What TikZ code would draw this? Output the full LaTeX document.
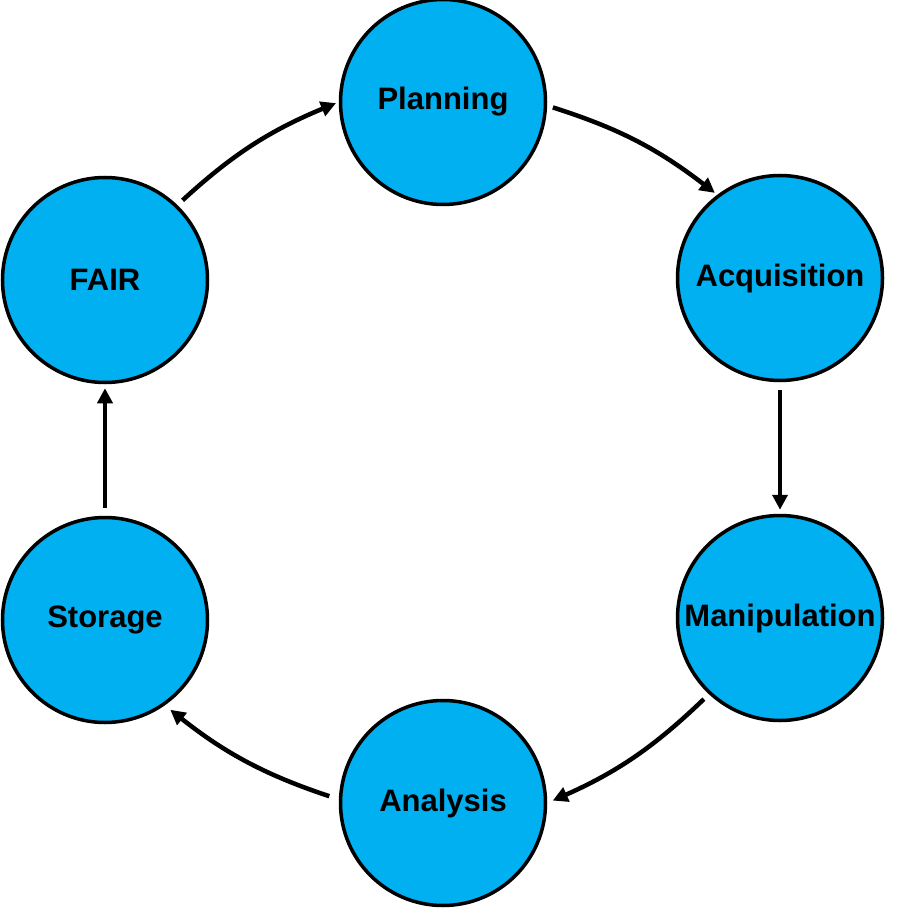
\documentclass[tikz,border=0pt]{standalone}
\usepackage{fontspec}
\setmainfont{Liberation Sans}
\usetikzlibrary{arrows.meta}
\definecolor{cyanfill}{HTML}{00B0F0}
\begin{document}
\begin{tikzpicture}[x=1pt,y=-1pt,
  stage/.style={circle,draw=black,line width=3.5pt,fill=cyanfill,minimum size=205pt,inner sep=0pt,
    font=\fontsize{31}{36}\selectfont\bfseries},
  flow/.style={line width=4.5pt,-{Triangle[length=15pt,width=15pt]}}]
\useasboundingbox (0,0) rectangle (896,909);
\node[stage] (planning) at (443,102) {Planning};
\node[stage] (acq) at (780,278) {Acquisition};
\node[stage] (manip) at (780,618) {Manipulation};
\node[stage] (analysis) at (443,803) {Analysis};
\node[stage] (storage) at (105,620) {Storage};
\node[stage] (fair) at (105,280) {FAIR};
\draw[flow,shorten <=7pt,shorten >=3pt] (fair.46) to[bend left=10] (planning.180);
\draw[flow,shorten <=6pt,shorten >=3pt] (planning.-2) to[bend left=10] (acq.127);
\draw[flow,shorten <=8pt,shorten >=4pt] (acq.south) -- (manip.north);
\draw[flow,shorten <=7pt,shorten >=6pt] (manip.227) to[bend left=10] (analysis.0);
\draw[flow,shorten <=10pt,shorten >=7pt] (analysis.178) to[bend left=10] (storage.-55);
\draw[flow,shorten <=8pt,shorten >=4pt] (storage.north) -- (fair.south);
\end{tikzpicture}
\end{document}
